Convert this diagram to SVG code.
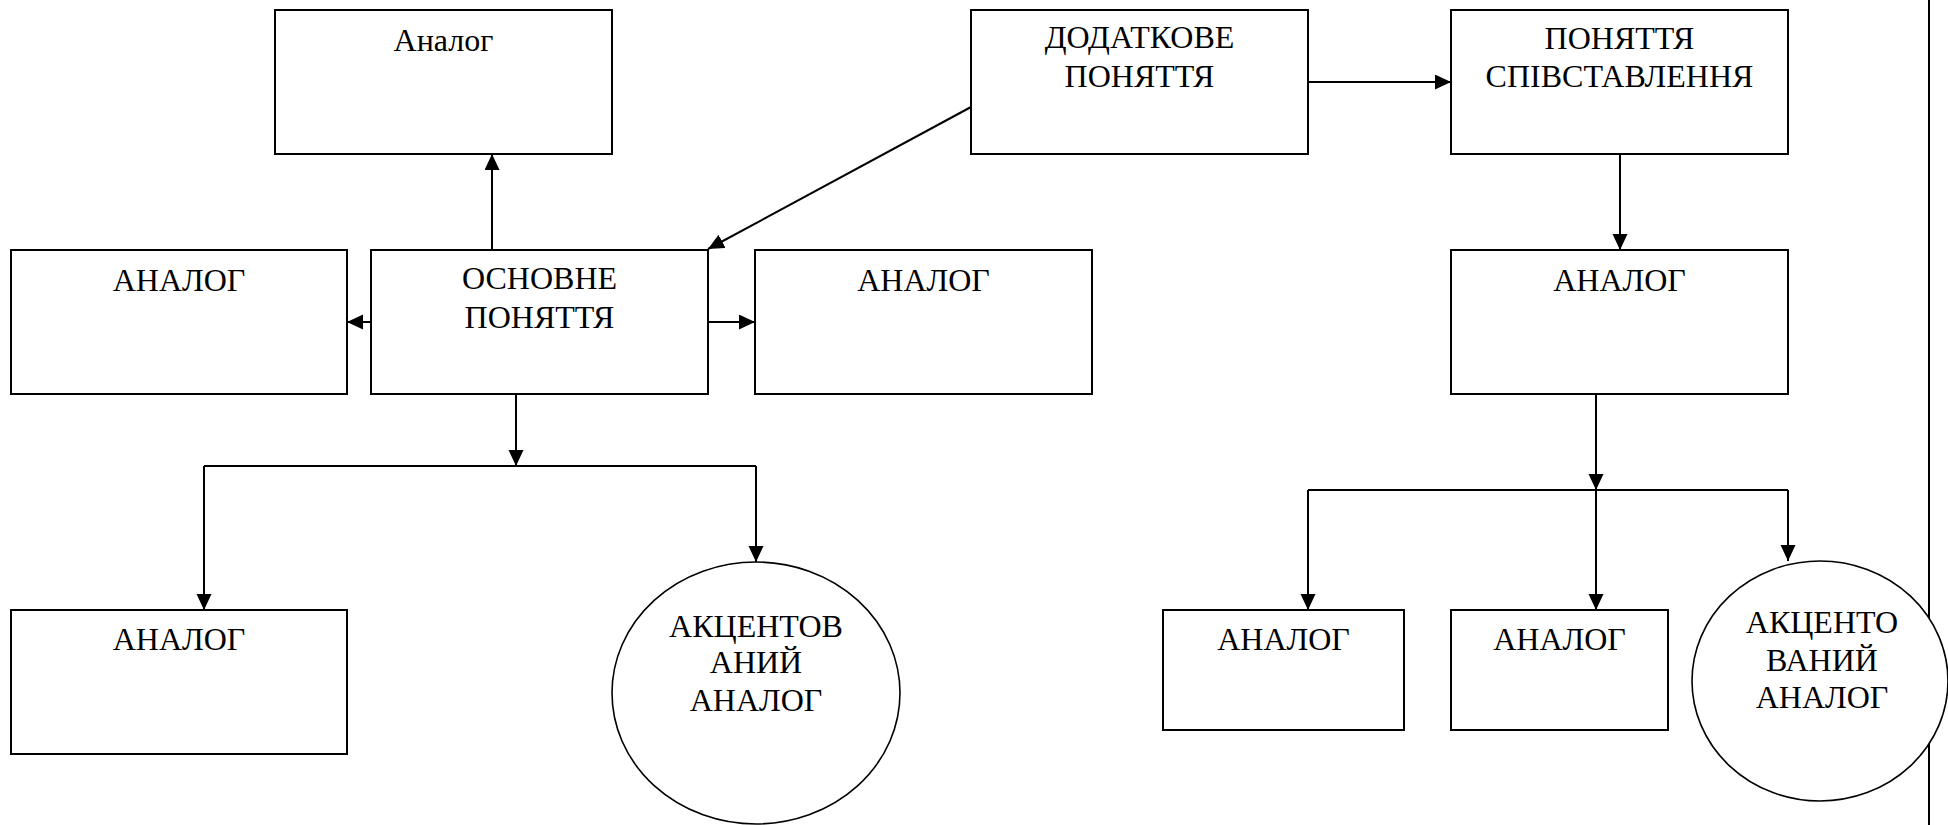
<svg xmlns="http://www.w3.org/2000/svg" width="1948" height="825" viewBox="0 0 1948 825">
  <style>
    .box { fill: #ffffff; stroke: #000000; stroke-width: 2; }
    .oval { fill: #ffffff; stroke: #000000; stroke-width: 1.6; }
    .wire { fill: none; stroke: #000000; stroke-width: 2; }
    .arrow { fill: none; stroke: #000000; stroke-width: 2; marker-end: url(#head); }
    .lbl { font-size: 32px; fill: #000000; text-anchor: middle; }
  </style>
  <defs>
    <marker id="head" markerUnits="userSpaceOnUse" markerWidth="17" markerHeight="16" refX="16" refY="7.5" orient="auto">
      <path d="M0,0 L16,7.5 L0,15 Z" fill="#000000"/>
    </marker>
  </defs>

  <rect width="1948" height="825" fill="#ffffff"/>

  <!-- page margin rule on the right -->
  <line class="wire" x1="1929" y1="0" x2="1929" y2="825"/>

  <g id="connectors">
    <path class="arrow" d="M492,250 L492,154"/>
    <path class="arrow" d="M371,322 L347,322"/>
    <path class="arrow" d="M708,322 L755,322"/>
    <path class="arrow" d="M971,107 L708,249"/>
    <path class="arrow" d="M1308,82 L1451,82"/>
    <path class="arrow" d="M1620,154 L1620,250"/>
    <!-- branches under the main concept -->
    <path class="arrow" d="M516,394 L516,466"/>
    <path class="wire" d="M204,466 L756,466"/>
    <path class="arrow" d="M204,466 L204,610"/>
    <path class="arrow" d="M756,466 L756,562"/>
    <!-- branches under the comparison analog -->
    <path class="arrow" d="M1596,394 L1596,490"/>
    <path class="wire" d="M1308,490 L1788,490"/>
    <path class="arrow" d="M1308,490 L1308,610"/>
    <path class="arrow" d="M1596,490 L1596,610"/>
    <path class="arrow" d="M1788,490 L1788,561"/>
  </g>

  <g font-family="'Liberation Serif', 'Times New Roman', 'DejaVu Serif', serif">
  <g id="analog-top">
    <rect class="box" x="275" y="10" width="337" height="144"/>
    <text class="lbl" x="443.5" y="51">Аналог</text>
  </g>

  <g id="analog-left">
    <rect class="box" x="11" y="250" width="336" height="144"/>
    <text class="lbl" x="179" y="291">АНАЛОГ</text>
  </g>

  <g id="main-concept">
    <rect class="box" x="371" y="250" width="337" height="144"/>
    <text class="lbl" x="539.5" y="289">ОСНОВНЕ</text>
    <text class="lbl" x="539.5" y="328">ПОНЯТТЯ</text>
  </g>

  <g id="analog-right">
    <rect class="box" x="755" y="250" width="337" height="144"/>
    <text class="lbl" x="923.5" y="291">АНАЛОГ</text>
  </g>

  <g id="extra-concept">
    <rect class="box" x="971" y="10" width="337" height="144"/>
    <text class="lbl" x="1139.5" y="48">ДОДАТКОВЕ</text>
    <text class="lbl" x="1139.5" y="87">ПОНЯТТЯ</text>
  </g>

  <g id="comparison-concept">
    <rect class="box" x="1451" y="10" width="337" height="144"/>
    <text class="lbl" x="1619.5" y="49">ПОНЯТТЯ</text>
    <text class="lbl" x="1619.5" y="87">СПІВСТАВЛЕННЯ</text>
  </g>

  <g id="comparison-analog">
    <rect class="box" x="1451" y="250" width="337" height="144"/>
    <text class="lbl" x="1619.5" y="291">АНАЛОГ</text>
  </g>

  <g id="analog-bottom-left">
    <rect class="box" x="11" y="610" width="336" height="144"/>
    <text class="lbl" x="179" y="650">АНАЛОГ</text>
  </g>

  <g id="accent-analog-left">
    <ellipse class="oval" cx="756" cy="693" rx="144" ry="131"/>
    <text class="lbl" x="756" y="637">АКЦЕНТОВ</text>
    <text class="lbl" x="756" y="673">АНИЙ</text>
    <text class="lbl" x="756" y="711">АНАЛОГ</text>
  </g>

  <g id="analog-bottom-1">
    <rect class="box" x="1163" y="610" width="241" height="120"/>
    <text class="lbl" x="1283.5" y="650">АНАЛОГ</text>
  </g>

  <g id="analog-bottom-2">
    <rect class="box" x="1451" y="610" width="217" height="120"/>
    <text class="lbl" x="1559.5" y="650">АНАЛОГ</text>
  </g>

  <g id="accent-analog-right">
    <ellipse class="oval" cx="1820" cy="681" rx="128" ry="120"/>
    <text class="lbl" x="1822" y="633">АКЦЕНТО</text>
    <text class="lbl" x="1822" y="671">ВАНИЙ</text>
    <text class="lbl" x="1822" y="708">АНАЛОГ</text>
  </g>
  </g>
</svg>
